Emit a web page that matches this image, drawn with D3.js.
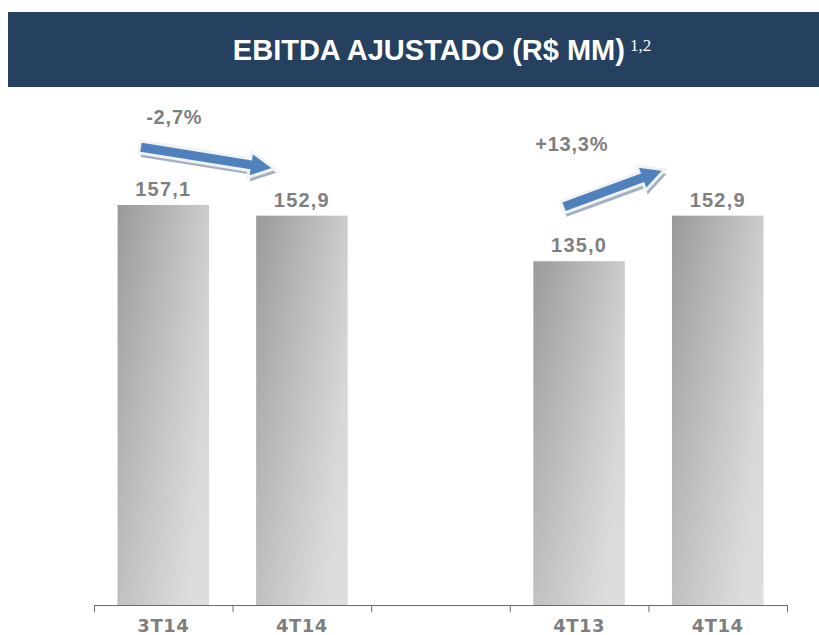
<!DOCTYPE html>
<html>
<head>
<meta charset="utf-8">
<script src="https://cdn.jsdelivr.net/npm/d3@7"></script>
<style>
  body { margin: 0; background: #fff; }
  svg { display: block; }
</style>
</head>
<body>
<svg></svg>
<script>
// Canvas size
var w = 819;
var h = 635;

// Chart data
var categories = ["3T14", "4T14", "", "4T13", "4T14 "];
var tickLabels = ["3T14", "4T14", "", "4T13", "4T14"];
var values = [157.1, 152.9, null, 135.0, 152.9];
var valueLabels = ["157,1", "152,9", "", "135,0", "152,9"];
var changes = [
    { from: 0, to: 1, label: "-2,7%" },
    { from: 3, to: 4, label: "+13,3%" }
];

// Plot area
var margin = { top: 125, left: 94, right: 32, bottom: 30 };
var baseY = h - margin.bottom;

var svg = d3.select("svg")
    .attr("width", w)
    .attr("height", h);

var defs = svg.append("defs");

// Bar gradient (dark left/top to light right/bottom)
var grad = defs.append("linearGradient")
    .attr("id", "barGrad")
    .attr("x1", "0").attr("y1", "0")
    .attr("x2", "1").attr("y2", "0.35");
grad.append("stop").attr("offset", "0%").attr("stop-color", "#9a9a9a");
grad.append("stop").attr("offset", "100%").attr("stop-color", "#d2d2d2");

var vgrad = defs.append("linearGradient")
    .attr("id", "barShade")
    .attr("x1", "0").attr("y1", "0")
    .attr("x2", "0").attr("y2", "1");
vgrad.append("stop").attr("offset", "0%").attr("stop-color", "#fff").attr("stop-opacity", 0);
vgrad.append("stop").attr("offset", "100%").attr("stop-color", "#fff").attr("stop-opacity", 0.25);

// Title bar
svg.append("rect")
    .attr("x", 8)
    .attr("y", 12)
    .attr("width", w - 8)
    .attr("height", 75)
    .attr("fill", "#26405f");

var title = svg.append("text")
    .attr("x", 442)
    .attr("y", 60)
    .attr("text-anchor", "middle")
    .attr("fill", "#fff")
    .attr("font-family", "'Liberation Sans Narrow', 'Arial Narrow', 'Liberation Sans', sans-serif")
    .attr("font-weight", "bold")
    .attr("font-size", "29px")
    .text("EBITDA AJUSTADO (R$ MM)");
title.append("tspan")
    .attr("dx", 5)
    .attr("dy", -9)
    .attr("font-family", "'Liberation Serif', serif")
    .attr("font-weight", "normal")
    .attr("font-size", "17px")
    .text("1,2");

// Scales
var xScale = d3.scaleBand()
    .domain(categories)
    .range([margin.left, w - margin.right])
    .paddingInner(0.34)
    .paddingOuter(0.17);

var xTicks = d3.scaleLinear()
    .domain([0, categories.length])
    .range([margin.left, w - margin.right]);

var yScale = d3.scaleLinear()
    .domain([0, 188.5])
    .range([baseY, margin.top]);

var data = categories.map(function (c, i) {
    return { cat: c, value: values[i], label: valueLabels[i], tick: tickLabels[i] };
});

// Bars
var barData = data.filter(function (d) { return d.value !== null; });

svg.selectAll(".bar")
    .data(barData)
    .enter().append("rect")
    .attr("class", "bar")
    .attr("x", function (d) { return xScale(d.cat); })
    .attr("y", function (d) { return yScale(d.value); })
    .attr("width", xScale.bandwidth())
    .attr("height", function (d) { return baseY - yScale(d.value); })
    .attr("fill", "url(#barGrad)");

svg.selectAll(".bar-shade")
    .data(barData)
    .enter().append("rect")
    .attr("class", "bar-shade")
    .attr("x", function (d) { return xScale(d.cat); })
    .attr("y", function (d) { return yScale(d.value); })
    .attr("width", xScale.bandwidth())
    .attr("height", function (d) { return baseY - yScale(d.value); })
    .attr("fill", "url(#barShade)");

// Value labels
svg.selectAll(".val")
    .data(barData)
    .enter().append("text")
    .attr("class", "val")
    .attr("x", function (d) { return xScale(d.cat) + xScale.bandwidth() / 2; })
    .attr("y", function (d) { return yScale(d.value) - 9; })
    .attr("text-anchor", "middle")
    .attr("fill", "#7f7f7f")
    .attr("font-family", "'Liberation Sans', Arial, sans-serif")
    .attr("font-weight", "bold")
    .attr("font-size", "20px")
    .attr("letter-spacing", "1.2px")
    .text(function (d) { return d.label; });

// Axis with ticks at band boundaries
var xAxis = d3.axisBottom(xTicks)
    .tickValues(d3.range(0, categories.length + 1))
    .tickFormat("")
    .tickSizeOuter(0)
    .tickSize(7);

var axisG = svg.append("g")
    .attr("transform", "translate(0," + baseY + ")")
    .call(xAxis);
axisG.selectAll("path, line")
    .attr("stroke", "#6b6b6b")
    .attr("stroke-width", 1);

// Category labels
svg.selectAll(".cat")
    .data(data)
    .enter().append("text")
    .attr("class", "cat")
    .attr("x", function (d) { return xScale(d.cat) + xScale.bandwidth() / 2; })
    .attr("y", baseY + 27)
    .attr("text-anchor", "middle")
    .attr("fill", "#7f7f7f")
    .attr("font-family", "'DejaVu Sans', Verdana, sans-serif")
    .attr("font-weight", "bold")
    .attr("font-size", "18px")
    .attr("letter-spacing", "0.5px")
    .text(function (d) { return d.tick; });

// Change arrows
function arrowPath(x0, y0, x1, y1) {
    var ang = Math.atan2(y1 - y0, x1 - x0);
    var len = Math.hypot(x1 - x0, y1 - y0);
    var hw = 6, headL = 25, headW = 13;
    var pts = [
        [0, -hw], [len - headL, -hw], [len - headL, -headW],
        [len, 0],
        [len - headL, headW], [len - headL, hw], [0, hw]
    ];
    var c = Math.cos(ang), s = Math.sin(ang);
    return "M" + pts.map(function (p) {
        return [x0 + p[0] * c - p[1] * s, y0 + p[0] * s + p[1] * c].join(",");
    }).join("L") + "Z";
}

changes.forEach(function (ch) {
    var a = data[ch.from], b = data[ch.to];
    var bw = xScale.bandwidth();
    var x0, y0, x1, y1, lx, ly;
    if (b.value < a.value) {
        x0 = xScale(a.cat) + bw * 0.24;
        y0 = yScale(a.value) - 58;
        x1 = xScale(b.cat) + bw * 0.2;
        y1 = yScale(b.value) - 47;
        lx = xScale(a.cat) + bw * 0.62;
        ly = yScale(a.value) - 81;
    } else {
        x0 = xScale(a.cat) + bw * 0.32;
        y0 = yScale(a.value) - 54;
        x1 = xScale(b.cat) - bw * 0.08;
        y1 = yScale(b.value) - 46;
        lx = xScale(a.cat) + bw * 0.42;
        ly = yScale(a.value) - 110;
    }
    // shadow
    svg.append("path")
        .attr("d", arrowPath(x0 + 2, y0 + 4, x1 + 2, y1 + 4))
        .attr("fill", "#8c9cb4")
        .attr("opacity", 0.8);
    // outline + arrow
    svg.append("path")
        .attr("d", arrowPath(x0, y0, x1, y1))
        .attr("fill", "#4f81bd")
        .attr("stroke", "#f2f2f2")
        .attr("stroke-width", 3)
        .attr("stroke-linejoin", "miter");

    svg.append("text")
        .attr("x", lx)
        .attr("y", ly)
        .attr("text-anchor", "middle")
        .attr("fill", "#7f7f7f")
        .attr("font-family", "'Liberation Sans', Arial, sans-serif")
        .attr("font-weight", "bold")
        .attr("font-size", "20px")
        .attr("letter-spacing", "0.8px")
        .text(ch.label);
});
</script>
</body>
</html>
